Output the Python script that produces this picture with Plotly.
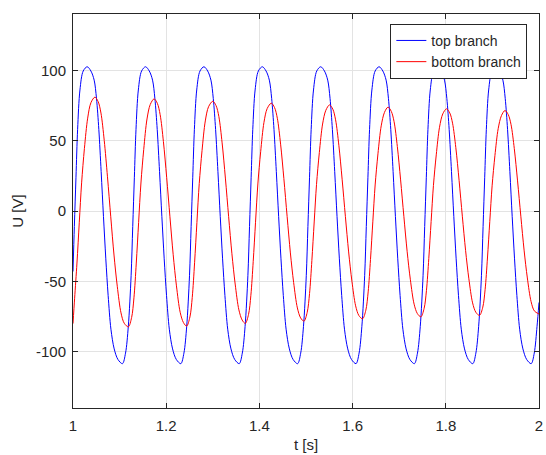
import plotly.graph_objects as go

# ---- data ----
t_top = [
    1.0000, 1.0029, 1.0064, 1.0099, 1.0149, 1.0219,
    1.0304, 1.0384, 1.0454, 1.0504, 1.0554, 1.0604, 1.0654, 1.0704, 1.0754, 1.0814, 1.0884, 1.0964, 1.1061,
    1.1127, 1.1187, 1.1247, 1.1282, 1.1317, 1.1352, 1.1402, 1.1472,
    1.1557, 1.1637, 1.1707, 1.1757, 1.1807, 1.1857, 1.1907, 1.1957, 1.2007, 1.2067, 1.2137, 1.2217, 1.2314,
    1.2380, 1.2440, 1.2500, 1.2535, 1.2570, 1.2605, 1.2655, 1.2725,
    1.2810, 1.2890, 1.2960, 1.3010, 1.3060, 1.3110, 1.3160, 1.3210, 1.3260, 1.3320, 1.3390, 1.3470, 1.3567,
    1.3633, 1.3693, 1.3753, 1.3788, 1.3823, 1.3858, 1.3908, 1.3978,
    1.4063, 1.4143, 1.4213, 1.4263, 1.4313, 1.4363, 1.4413, 1.4463, 1.4513, 1.4573, 1.4643, 1.4723, 1.4820,
    1.4886, 1.4946, 1.5006, 1.5041, 1.5076, 1.5111, 1.5161, 1.5231,
    1.5316, 1.5396, 1.5466, 1.5516, 1.5566, 1.5616, 1.5666, 1.5716, 1.5766, 1.5826, 1.5896, 1.5976, 1.6073,
    1.6139, 1.6199, 1.6259, 1.6294, 1.6329, 1.6364, 1.6414, 1.6484,
    1.6569, 1.6649, 1.6719, 1.6769, 1.6819, 1.6869, 1.6919, 1.6969, 1.7019, 1.7079, 1.7149, 1.7229, 1.7326,
    1.7392, 1.7452, 1.7512, 1.7547, 1.7582, 1.7617, 1.7667, 1.7737,
    1.7822, 1.7902, 1.7972, 1.8022, 1.8072, 1.8122, 1.8172, 1.8222, 1.8272, 1.8332, 1.8402, 1.8482, 1.8579,
    1.8645, 1.8705, 1.8765, 1.8800, 1.8835, 1.8870, 1.8920, 1.8990,
    1.9075, 1.9155, 1.9225, 1.9275, 1.9325, 1.9375, 1.9425, 1.9475, 1.9525, 1.9585, 1.9655, 1.9735, 1.9832,
    1.9898, 1.9958, 2.0000,
]
u_top = [
    -43, -11, 24, 58, 86, 99.5,
    102.5, 99.5, 93, 80, 58, 28, -4, -34, -60, -84, -98, -105.5, -108.5,
    -101, -82, -46, -11, 24, 58, 86, 99.5,
    102.5, 99.5, 93, 80, 58, 28, -4, -34, -60, -84, -98, -105.5, -108.5,
    -101, -82, -46, -11, 24, 58, 86, 99.5,
    102.5, 99.5, 93, 80, 58, 28, -4, -34, -60, -84, -98, -105.5, -108.5,
    -101, -82, -46, -11, 24, 58, 86, 99.5,
    102.5, 99.5, 93, 80, 58, 28, -4, -34, -60, -84, -98, -105.5, -108.5,
    -101, -82, -46, -11, 24, 58, 86, 99.5,
    102.5, 99.5, 93, 80, 58, 28, -4, -34, -60, -84, -98, -105.5, -108.5,
    -101, -82, -46, -11, 24, 58, 86, 99.5,
    102.5, 99.5, 93, 80, 58, 28, -4, -34, -60, -84, -98, -105.5, -108.5,
    -101, -82, -46, -11, 24, 58, 86, 99.5,
    102.5, 99.5, 93, 80, 58, 28, -4, -34, -60, -84, -98, -105.5, -108.5,
    -101, -82, -46, -11, 24, 58, 86, 99.5,
    102.5, 99.5, 93, 80, 58, 28, -4, -34, -60, -84, -98, -105.5, -108.5,
    -101, -82, -65,
]

t_bottom = [
    1.0000, 1.0035, 1.0085, 1.0135, 1.0185, 1.0245, 1.0315, 1.0385,
    1.0470, 1.0540, 1.0600, 1.0670, 1.0740, 1.0810, 1.0880, 1.0950, 1.1030, 1.1100, 1.1188,
    1.1258, 1.1308, 1.1358, 1.1408, 1.1458, 1.1518, 1.1588, 1.1658,
    1.1740, 1.1810, 1.1870, 1.1940, 1.2010, 1.2080, 1.2150, 1.2220, 1.2300, 1.2370, 1.2439,
    1.2509, 1.2559, 1.2609, 1.2659, 1.2709, 1.2769, 1.2839, 1.2909,
    1.3000, 1.3070, 1.3130, 1.3200, 1.3270, 1.3340, 1.3410, 1.3480, 1.3560, 1.3630, 1.3697,
    1.3767, 1.3817, 1.3867, 1.3917, 1.3967, 1.4027, 1.4097, 1.4167,
    1.4255, 1.4325, 1.4385, 1.4455, 1.4525, 1.4595, 1.4665, 1.4735, 1.4815, 1.4885, 1.4956,
    1.5026, 1.5076, 1.5126, 1.5176, 1.5226, 1.5286, 1.5356, 1.5426,
    1.5505, 1.5575, 1.5635, 1.5705, 1.5775, 1.5845, 1.5915, 1.5985, 1.6065, 1.6135, 1.6214,
    1.6284, 1.6334, 1.6384, 1.6434, 1.6484, 1.6544, 1.6614, 1.6684,
    1.6760, 1.6830, 1.6890, 1.6960, 1.7030, 1.7100, 1.7170, 1.7240, 1.7320, 1.7390, 1.7465,
    1.7535, 1.7585, 1.7635, 1.7685, 1.7735, 1.7795, 1.7865, 1.7935,
    1.8015, 1.8085, 1.8145, 1.8215, 1.8285, 1.8355, 1.8425, 1.8495, 1.8575, 1.8645, 1.8724,
    1.8794, 1.8844, 1.8894, 1.8944, 1.8994, 1.9054, 1.9124, 1.9194,
    1.9270, 1.9340, 1.9400, 1.9470, 1.9540, 1.9610, 1.9680, 1.9750, 1.9830, 1.9900, 2.0000,
]
u_bottom = [
    -80, -62, -37, -8, 20, 44.5, 66, 77,
    80.9, 77.7, 69.6, 50.2, 24.3, -4.1, -31.3, -53.5, -72.4, -79.8, -82.3,
    -75.7, -61.7, -37.0, -8.2, 19.9, 43.8, 65.4, 75.7,
    79.7, 76.5, 68.5, 49.4, 23.9, -4.1, -31.1, -53.2, -72.0, -79.3, -81.8,
    -75.3, -61.4, -36.8, -8.2, 19.5, 42.9, 64.0, 74.1,
    78.0, 74.9, 67.1, 48.4, 23.4, -4.0, -30.4, -51.9, -70.3, -77.5, -79.9,
    -73.5, -59.9, -36.0, -8.0, 19.2, 42.1, 62.8, 72.8,
    76.6, 73.5, 65.9, 47.5, 23.0, -3.9, -29.8, -50.9, -68.9, -76.0, -78.3,
    -72.0, -58.7, -35.2, -7.8, 18.9, 41.5, 61.8, 71.6,
    75.4, 72.4, 64.8, 46.7, 22.6, -3.8, -29.1, -49.8, -67.4, -74.3, -76.6,
    -70.5, -57.5, -34.5, -7.7, 18.5, 40.6, 60.5, 70.1,
    73.8, 70.8, 63.5, 45.8, 22.1, -3.8, -28.6, -48.9, -66.2, -72.9, -75.2,
    -69.2, -56.4, -33.8, -7.5, 18.2, 39.9, 59.5, 69.0,
    72.6, 69.7, 62.4, 45.0, 21.8, -3.7, -28.2, -48.2, -65.3, -72.0, -74.2,
    -68.3, -55.7, -33.4, -7.4, 17.9, 39.3, 58.5, 67.8,
    71.4, 68.5, 61.4, 44.3, 21.4, -3.7, -27.8, -47.6, -64.4, -71.0, -73.2,
]

x_ticks = [1, 1.2, 1.4, 1.6, 1.8, 2]
x_tick_labels = ["1", "1.2", "1.4", "1.6", "1.8", "2"]
y_ticks = [-100, -50, 0, 50, 100]
y_tick_labels = ["-100", "-50", "0", "50", "100"]
series_names = ["top branch", "bottom branch"]

FONT = "Liberation Sans, Arial, sans-serif"
AX = "#262626"

fig = go.Figure()
fig.add_trace(go.Scatter(x=t_top, y=u_top, mode="lines", name=series_names[0],
                         line=dict(color="#0000ff", width=1, shape="spline", smoothing=0.9)))
fig.add_trace(go.Scatter(x=t_bottom, y=u_bottom, mode="lines", name=series_names[1],
                         line=dict(color="#ff0000", width=1, shape="spline", smoothing=0.9)))

axis_common = dict(
    showline=True, linecolor=AX, linewidth=1, mirror="allticks",
    ticks="inside", ticklen=5, tickcolor=AX, tickwidth=1,
    showgrid=True, gridcolor="#e3e3e3", gridwidth=1, zeroline=False,
    tickfont=dict(family=FONT, size=15, color=AX),
    ticklabeloverflow="allow",
)

fig.update_layout(
    width=546, height=455,
    margin=dict(l=73, r=3, t=14, b=47),
    paper_bgcolor="white", plot_bgcolor="white",
    font=dict(family=FONT, size=15, color=AX),
    xaxis=dict(range=[1, 2], tickvals=x_ticks, ticktext=x_tick_labels,
               title=dict(text="t [s]", font=dict(family=FONT, size=15, color=AX), standoff=6),
               ticklabelstandoff=4, **axis_common),
    yaxis=dict(range=[-140, 140], tickvals=y_ticks, ticktext=y_tick_labels,
               title=dict(text="U [V]", font=dict(family=FONT, size=15, color=AX), standoff=8),
               ticklabelstandoff=3, **axis_common),
    legend=dict(x=0.975, y=0.975, xanchor="right", yanchor="top",
                bgcolor="white", bordercolor=AX, borderwidth=1,
                font=dict(family=FONT, size=14, color=AX),
                tracegroupgap=0, itemwidth=30),
    showlegend=True,
)

fig.write_html("out.html")
